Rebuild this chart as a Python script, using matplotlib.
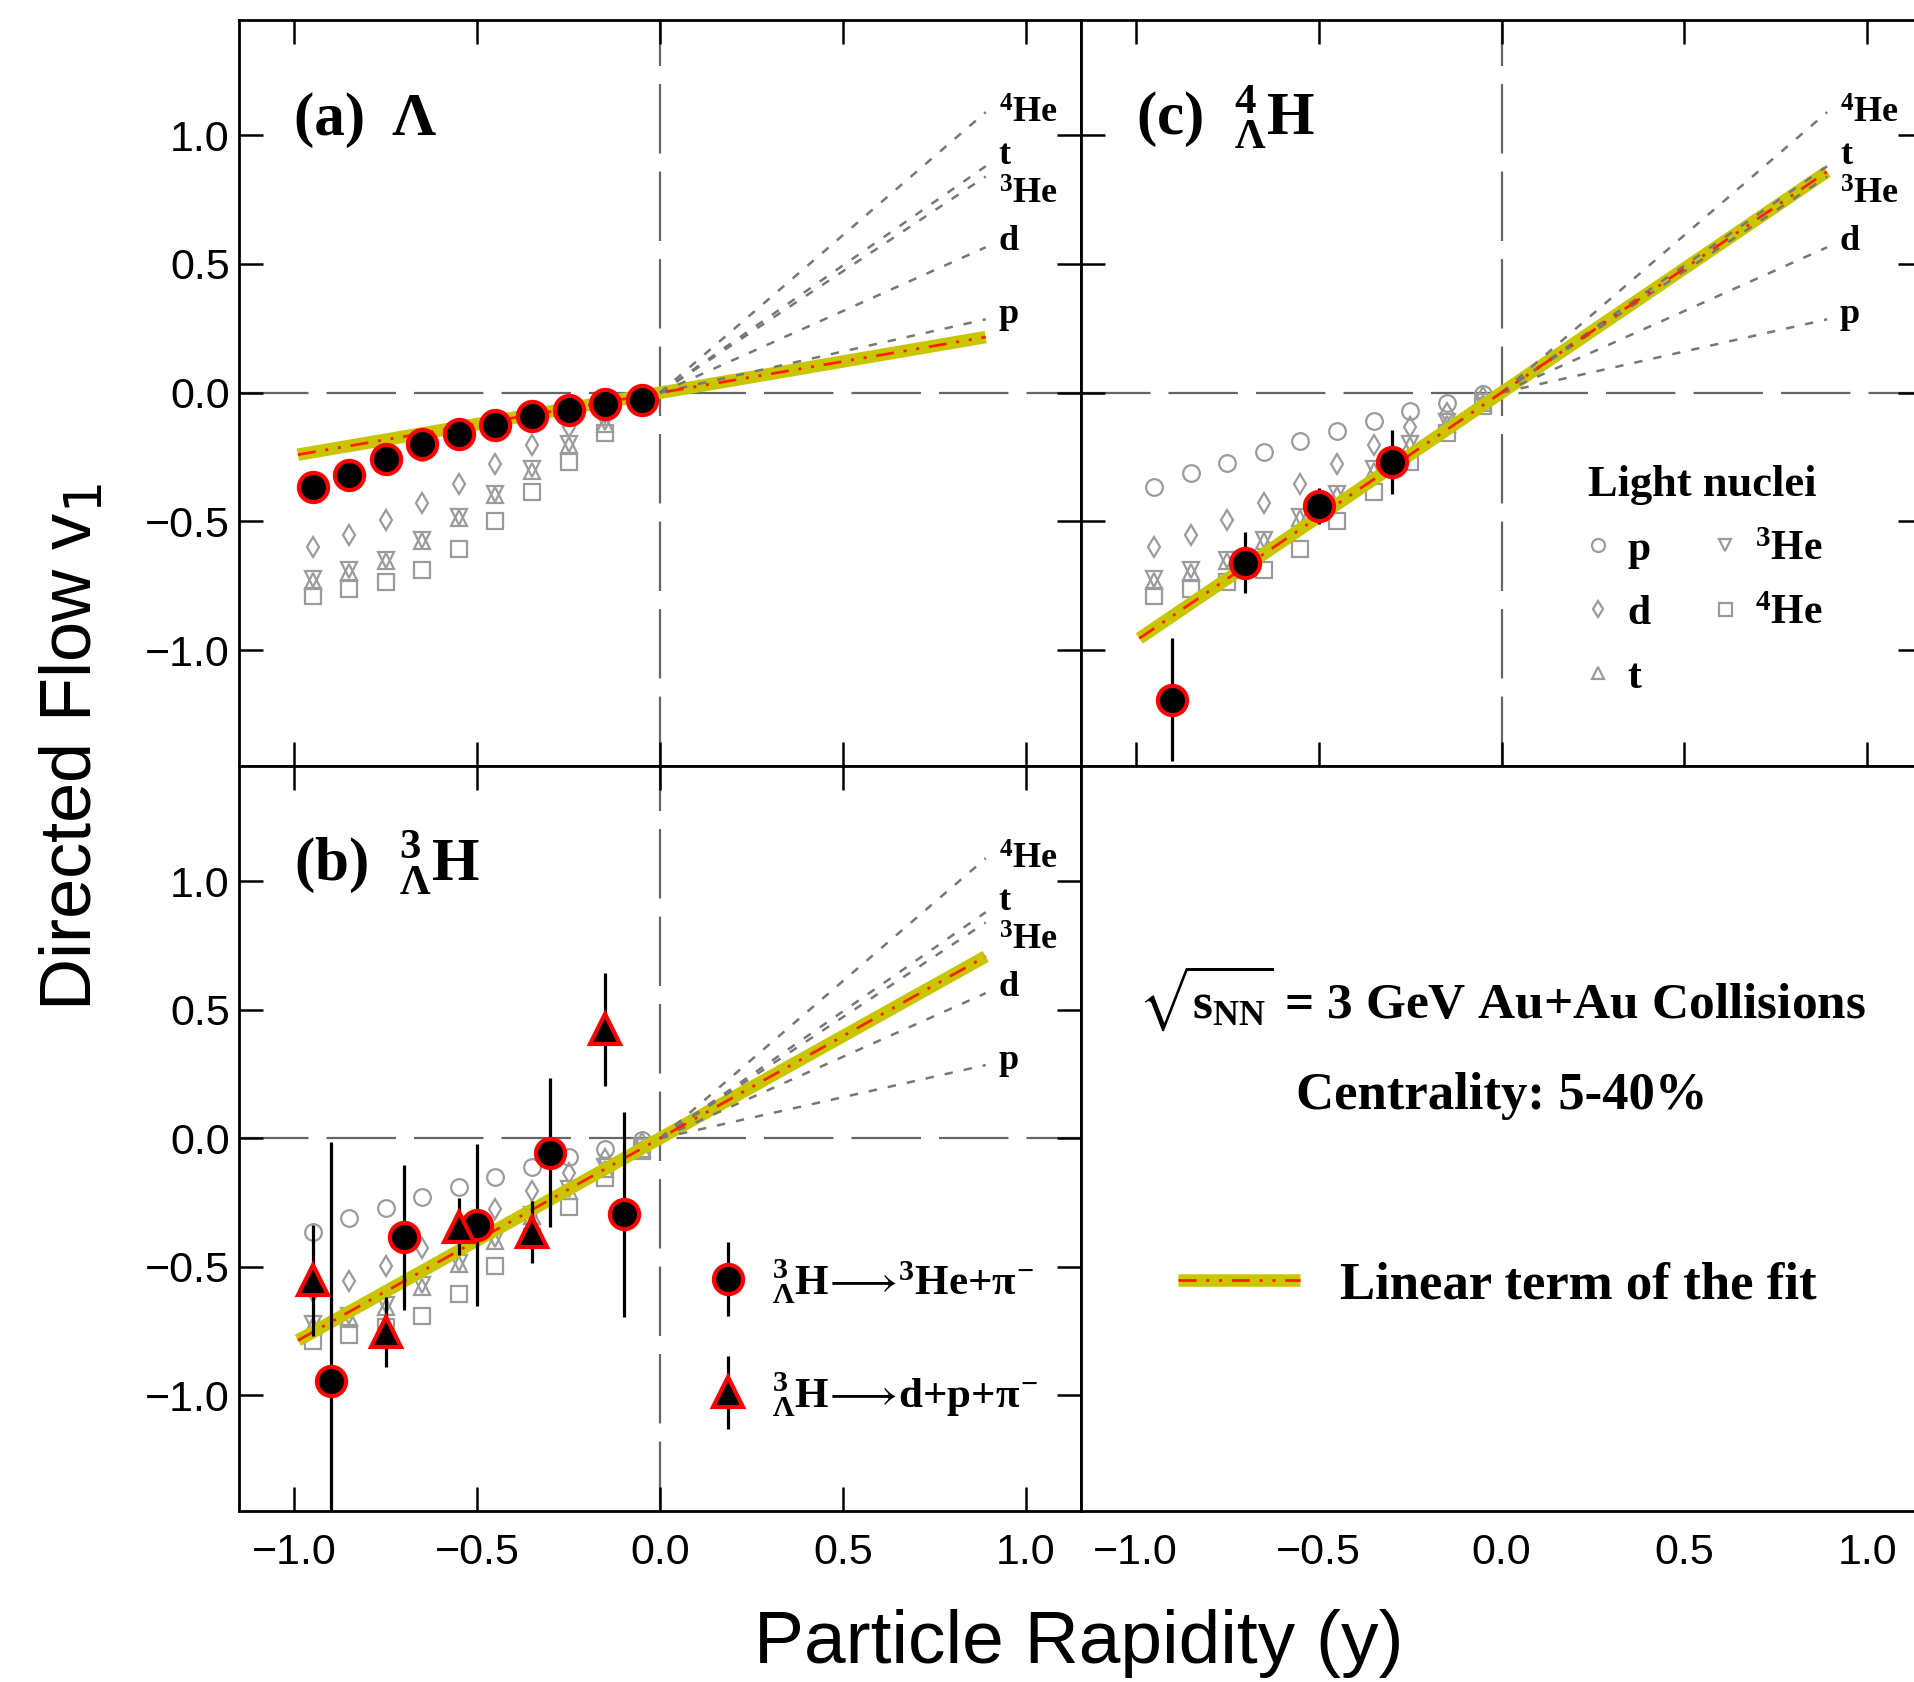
import matplotlib
matplotlib.use("Agg")
import matplotlib.pyplot as plt
from matplotlib.container import ErrorbarContainer
from matplotlib.legend_handler import HandlerErrorbar

plt.rcParams['font.family'] = ['Liberation Sans', 'DejaVu Sans']
plt.rcParams['mathtext.fontset'] = 'custom'
plt.rcParams['mathtext.rm'] = 'Liberation Serif:bold'
plt.rcParams['mathtext.it'] = 'Liberation Serif:bold'
plt.rcParams['mathtext.bf'] = 'Liberation Serif:bold'
plt.rcParams['mathtext.fallback'] = 'stix'
plt.rcParams['lines.scale_dashes'] = False

# light nuclei v1 vs rapidity (same in panels a, b, c)
rap = [-0.95, -0.85, -0.75, -0.65, -0.55, -0.45, -0.35, -0.25, -0.15, -0.05]
v1_p = [-0.365, -0.312, -0.272, -0.230, -0.189, -0.150, -0.112, -0.073, -0.042, -0.006]
v1_d = [-0.599, -0.555, -0.496, -0.429, -0.355, -0.277, -0.205, -0.134, -0.080, -0.018]
v1_t = [-0.732, -0.697, -0.656, -0.578, -0.488, -0.398, -0.304, -0.204, -0.120, -0.040]
v1_he3 = [-0.724, -0.690, -0.649, -0.572, -0.484, -0.392, -0.298, -0.198, -0.113, -0.035]
v1_he4 = [-0.790, -0.764, -0.736, -0.690, -0.606, -0.498, -0.386, -0.268, -0.155, -0.050]
nuc_names = ['p', 'd', 't', '$^{3}$He', '$^{4}$He']

# linear terms of the light nuclei fits (value at the end of the line)
nuc_line_x = [0.0, 0.89]
nuc_line_end = [0.285, 0.565, 0.880, 0.840, 1.090]

# Lambda
v1_lambda = [-0.368, -0.321, -0.256, -0.200, -0.162, -0.124, -0.089, -0.068, -0.043, -0.027]

# 3LH -> 3He + pi-
h3_2b_y = [-0.9, -0.7, -0.5, -0.3, -0.1]
h3_2b_v1 = [-0.945, -0.386, -0.338, -0.057, -0.296]
h3_2b_err = [0.93, 0.283, 0.316, 0.29, 0.40]

# 3LH -> d + p + pi-
h3_3b_y = [-0.95, -0.75, -0.55, -0.35, -0.15]
h3_3b_v1 = [-0.553, -0.754, -0.344, -0.366, 0.424]
h3_3b_err = [0.215, 0.135, 0.11, 0.12, 0.22]

# 4LH
h4_y = [-0.9, -0.7, -0.5, -0.3]
h4_v1 = [-1.193, -0.660, -0.441, -0.269]
h4_err = [0.24, 0.12, 0.07, 0.125]

# linear term of the fit, end points
fit_x = [-0.99, 0.89]
fit_lambda = [-0.241, 0.216]
fit_h3 = [-0.787, 0.708]
fit_h4 = [-0.955, 0.859]

ticks = [-1.0, -0.5, 0.0, 0.5, 1.0]

serif_bold = dict(family='Liberation Serif', weight='bold')
band_color = '#c9c600'
gray_mk = '#9b9b9b'

fig = plt.figure(figsize=(19.15, 16.82), dpi=100)
ax_a = fig.add_axes([0.1250, 0.5447, 0.4394, 0.4437])
ax_b = fig.add_axes([0.1250, 0.1018, 0.4394, 0.4429])
ax_c = fig.add_axes([0.5644, 0.5447, 0.4394, 0.4437])
ax_d = fig.add_axes([0.5644, 0.1018, 0.4394, 0.4429])

for ax in [ax_a, ax_b, ax_c, ax_d]:
    ax.set_xlim(-1.15, 1.15)
    ax.set_ylim(-1.45, 1.45)
    ax.set_xticks(ticks)
    ax.set_yticks(ticks)
    ax.tick_params(direction='in', length=17, width=1.8, top=True, right=True,
                   labelsize=31)
    ax.tick_params(axis='x', pad=16)
    ax.tick_params(axis='y', pad=7)
    for s in ax.spines.values():
        s.set_linewidth(2)

ax_a.tick_params(labelbottom=False)
ax_c.tick_params(labelbottom=False, labelleft=False)
ax_d.tick_params(length=0, labelleft=False)


def draw_nuclei(ax):
    ax.axhline(0, color='#666666', lw=1.6, ls=(0, (50, 13)), zorder=0)
    ax.axvline(0, color='#666666', lw=1.6, ls=(0, (50, 13)), zorder=0)
    handles = []
    for vals, mk, ms, name in zip([v1_p, v1_d, v1_t, v1_he3, v1_he4],
                                  ['o', 'd', '^', 'v', 's'],
                                  [12, 10.5, 11, 11, 12], nuc_names):
        h, = ax.plot(rap, vals, ls='none', marker=mk, ms=ms, mfc='none',
                     mec=gray_mk, mew=1.6, zorder=1, label=name)
        handles.append(h)
    for end, name in zip(nuc_line_end, nuc_names):
        ax.plot(nuc_line_x, [0, end], color='#777777', lw=1.8,
                ls=(0, (6, 8)), zorder=3)
    label_y = [0.27, 0.553, 0.887, 0.735, 1.05]
    for ly, name in zip(label_y, nuc_names):
        ax.text(0.925, ly, name, fontsize=26, va='baseline', **serif_bold)
    return handles


def draw_fit(ax, vals):
    b, = ax.plot(fit_x, vals, color=band_color, lw=9, solid_capstyle='butt', zorder=2)
    r, = ax.plot(fit_x, vals, color='#ff2200', lw=2,
                 ls=(0, (13, 7, 2.2, 7, 2.2, 7)), zorder=3)
    return b, r


# (a) Lambda
draw_nuclei(ax_a)
draw_fit(ax_a, fit_lambda)
ax_a.plot(rap, v1_lambda, ls='none', marker='o', ms=21, mfc='k', mec='red',
          mew=3, zorder=5)
ax_a.text(-1.0, 1.0, '(a)  Λ', fontsize=44, va='baseline', **serif_bold)

# (b) 3LH
draw_nuclei(ax_b)
draw_fit(ax_b, fit_h3)
eb1 = ax_b.errorbar(h3_2b_y, h3_2b_v1, yerr=h3_2b_err, fmt='o', ms=21, mfc='k',
                    mec='red', mew=3, ecolor='k', elinewidth=2.3, capsize=0, zorder=5)
eb2 = ax_b.errorbar(h3_3b_y, h3_3b_v1, yerr=h3_3b_err, fmt='^', ms=21, mfc='k',
                    mec='red', mew=3, ecolor='k', elinewidth=2.3, capsize=0, zorder=5)
ax_b.text(-1.0, 1.0, r'(b)  ${}^{3}_{\Lambda}$H', fontsize=44, va='baseline', **serif_bold)
ax_b.legend([eb1, eb2],
            [r'${}^{3}_{\Lambda}$H$\!\longrightarrow\!{}^{3}$He+$\pi^{-}$',
             r'${}^{3}_{\Lambda}$H$\!\longrightarrow\!$d+p+$\pi^{-}$'],
            loc='center left', bbox_to_anchor=(0.554, 0.232), frameon=False,
            prop=dict(size=31, **serif_bold),
            handlelength=1.05, handletextpad=0.5,
            labelspacing=1.5, borderpad=0, borderaxespad=0, numpoints=1,
            handler_map={ErrorbarContainer: HandlerErrorbar(yerr_size=0.85)})

# (c) 4LH
nuc_handles = draw_nuclei(ax_c)
band, red = draw_fit(ax_c, fit_h4)
ax_c.errorbar(h4_y, h4_v1, yerr=h4_err, fmt='o', ms=21, mfc='k', mec='red',
              mew=3, ecolor='k', elinewidth=2.3, capsize=0, zorder=5)
ax_c.text(-1.0, 1.0, r'(c)  ${}^{4}_{\Lambda}$H', fontsize=44, va='baseline', **serif_bold)
leg_c = ax_c.legend(nuc_handles, nuc_names, ncol=2, loc='upper left',
                    bbox_to_anchor=(0.603, 0.403), frameon=False,
                    title='Light nuclei', alignment='left',
                    title_fontproperties=dict(size=32, **serif_bold),
                    prop=dict(size=30, **serif_bold), markerscale=0.78,
                    handlelength=0.45, handletextpad=0.5, columnspacing=1.55,
                    labelspacing=0.62, borderpad=0, borderaxespad=0, numpoints=1)

# (d) text panel
ax_d.text(0.0, 0.546, r'$\sqrt{s_{\mathrm{NN}}}$ = 3 GeV Au+Au Collisions',
          fontsize=37, ha='center', va='center', **serif_bold)
ax_d.text(0.0, 0.166, 'Centrality: 5-40%', fontsize=38, ha='center',
          va='center', **serif_bold)
ax_d.legend([(band, red)], ['Linear term of the fit'], loc='center left',
            bbox_to_anchor=(0.116, 0.302), frameon=False,
            prop=dict(size=38, **serif_bold), handlelength=2.3, handletextpad=0.76,
            borderpad=0, borderaxespad=0)

fig.text(0.5631, 0.011, 'Particle Rapidity (y)', fontsize=54, ha='center',
         va='baseline')
fig.text(0.0478, 0.556, 'Directed Flow v$_{1}$', fontsize=52, rotation=90,
         rotation_mode='anchor', ha='center', va='baseline',
         math_fontfamily='dejavusans')

fig.savefig('out.png', dpi=100)
